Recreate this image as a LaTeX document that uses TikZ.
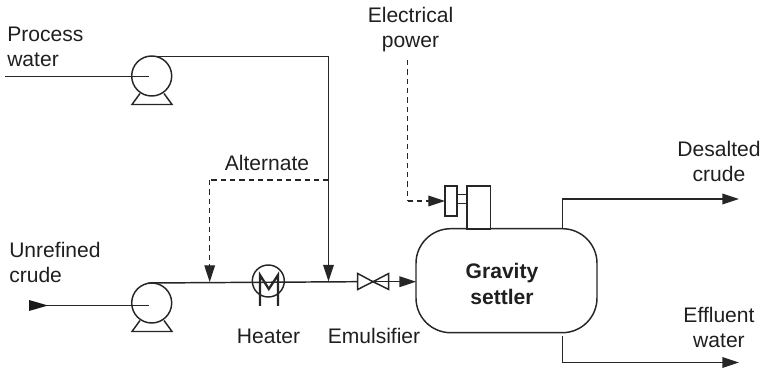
\documentclass[tikz,border=0pt]{standalone}
\usepackage{fontspec}
\setmainfont{Liberation Sans}
\usetikzlibrary{arrows.meta}
\tikzset{
  x=0.75pt,y=-0.75pt,
  pipe/.style={draw=black!85,line width=1.1pt},
  flow/.style={pipe,-{Triangle[length=12.5pt,width=8pt]}},
  sig/.style={draw=black!85,line width=0.9pt,dash pattern=on 4pt off 3pt,-{Triangle[length=12.5pt,width=8pt]}},
  sigplain/.style={draw=black!85,line width=0.9pt,dash pattern=on 4pt off 3pt},
  equip/.style={draw=black!85,line width=1.1pt,fill=white,inner sep=0pt,outer sep=0pt},
  lbl/.style={font=\fontsize{15.8pt}{19.2pt}\selectfont,align=left,inner sep=0pt,text=black!88},
  lblc/.style={lbl,align=center},
  lblb/.style={lbl,font=\fontsize{15.8pt}{19.5pt}\selectfont\bfseries,align=center}
}
\begin{document}
\begin{tikzpicture}
\useasboundingbox (0,0) rectangle (765,370);
% free ends
\coordinate (pwstart) at (5,76.7);
\coordinate (pwhub) at (149,76.7);
\coordinate (pwtop) at (151.7,56.7);
\coordinate (pwcorner) at (328.5,56.7);
\coordinate (junction1) at (328.5,281.5);
\coordinate (altstart) at (328.5,180);
\coordinate (altcorner) at (209.7,180);
\coordinate (junction2) at (209.7,282);
\coordinate (crudeend) at (29,305.5);
\coordinate (crhub) at (149,305.5);
\coordinate (crtop) at (148,283);
\coordinate (eltop) at (407.7,60);
\coordinate (elcorner) at (407.7,201);
\coordinate (valvein) at (357,281.7);
% connectors under equipment
\draw[pipe] (pwstart) -- (pwhub);
\draw[pipe] (pwtop) -- (pwcorner);
\draw[flow] (pwcorner) -- (junction1);
\draw[sigplain] (altstart) -- (altcorner);
\draw[sig] (altcorner) -- (junction2);
\draw[pipe] (crtop) -- (valvein);
\node[equip,circle,minimum size=30pt,fill=none] (pump1) at (151.7,76) {};
\node[equip,circle,minimum size=30pt,fill=none] (pump2) at (151.7,303) {};
\draw[equip,fill=none] (140,93.5) -- (132,104.5) -- (172,104.5) -- (164,93.5);
\draw[equip,fill=none] (140,320.5) -- (132,331.5) -- (172,331.5) -- (164,320.5);
\draw[pipe] (crudeend) -- (crhub);
\fill[black!90] (29,300) -- (48,305.5) -- (29,311) -- cycle;
% heater
\node[equip,circle,minimum size=24pt,fill=none] (heater) at (268.3,281) {};
\draw[equip,fill=none,line width=1.7pt] (260,306) -- (260,275) -- (268.8,289) -- (278,275) -- (278,306);
% valve
\draw[equip] (357.7,273.5) -- (373,281.7) -- (357.7,289.5) -- cycle;
\coordinate (valveout) at (373,281.7);
\draw[flow] (valveout) -- (416,281.7);
\draw[equip,fill=none] (388.7,273.5) -- (373,281.7) -- (388.7,289.5) -- cycle;
% settler
\node[equip,draw,rounded corners=26pt,minimum width=135.75pt,minimum height=78pt,anchor=north west,fill=none] (settler) at (416,228.7) {};
\node[lblb] (settlerlbl) at (502,283.5) {Gravity\\settler};
% motor
\node[equip,minimum width=9pt,minimum height=22.5pt,anchor=north west] (motor) at (445,186) {};
\node[equip,minimum width=17.5pt,minimum height=32.2pt,anchor=north west] (drive) at (467,186) {};
\draw[equip] (motor.east |- 0,194.5) rectangle (drive.west |- 0,203.5);
\node[lblc] (elec) at (410.5,29.5) {Electrical\\power};
\draw[sigplain] (eltop) -- (elcorner);
\draw[sig] (elcorner) -- (motor.west |- elcorner);
% outlets
\coordinate (outa) at (562.5,228.7);
\coordinate (outa2) at (562.5,199);
\coordinate (enda) at (739,199);
\coordinate (outb) at (562.5,336.5);
\coordinate (outb2) at (562.5,362.5);
\coordinate (endb) at (739,362.5);
\draw[flow] (outa) -- (outa2) -- (enda);
\draw[flow] (outb) -- (outb2) -- (endb);
% labels
\node[lbl,anchor=north west] (l1) at (7,26.5) {Process\\water};
\node[lbl,anchor=north west] (l2) at (9,241.5) {Unrefined\\crude};
\node[lbl] (l3) at (267,163) {Alternate};
\node[lbl] (l4) at (268.5,336) {Heater};
\node[lbl] (l5) at (374,336) {Emulsifier};
\node[lblc] (l6) at (719,161.5) {Desalted\\crude};
\node[lblc] (l7) at (719,327.5) {Effluent\\water};
\end{tikzpicture}
\end{document}
